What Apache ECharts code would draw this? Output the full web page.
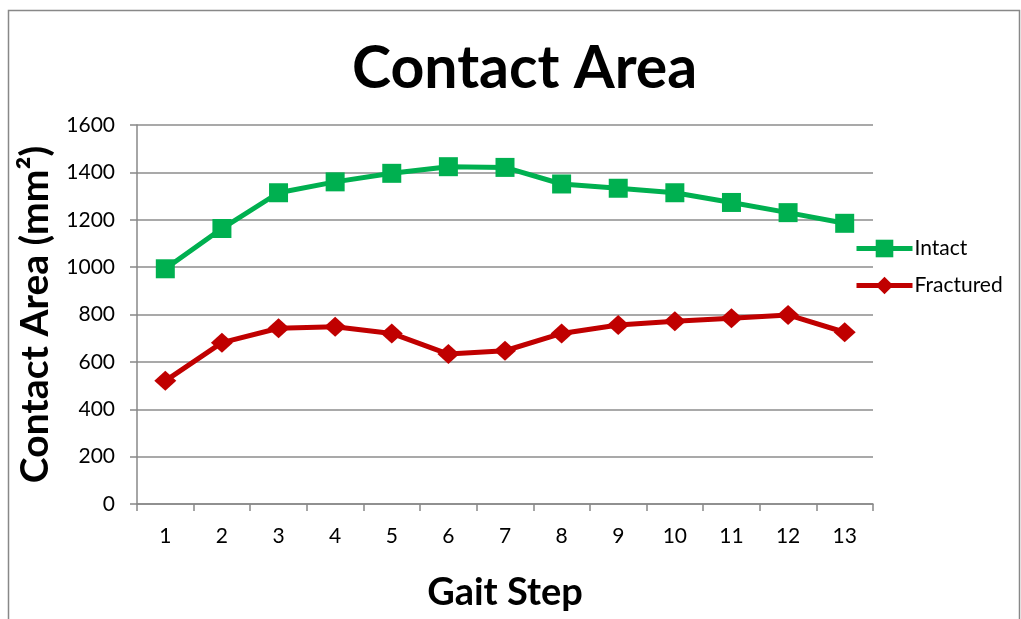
<!DOCTYPE html>
<html>
<head>
<meta charset="utf-8">
<script src="https://cdn.jsdelivr.net/npm/echarts@6/dist/echarts.min.js"></script>
<style>html,body{margin:0;padding:0;background:#fff}#c{width:1021px;height:619px}</style>
</head>
<body>
<div id="c"></div>
<script>
const categories = ['1','2','3','4','5','6','7','8','9','10','11','12','13'];
const intact = [993, 1163, 1314, 1360, 1396, 1424, 1421, 1351, 1333, 1314, 1273, 1230, 1185];
const fractured = [520, 681, 742, 748, 720, 633, 647, 720, 756, 772, 784, 798, 725];
const seriesNames = ['Intact', 'Fractured'];

const FONT = 'Lato, "Open Sans", sans-serif';
const chart = echarts.init(document.getElementById('c'));
chart.setOption({
  animation: false,
  backgroundColor: '#fff',
  graphic: [{
    type: 'rect', shape: {x: 8.5, y: 10.5, width: 1011, height: 640},
    style: {fill: 'none', stroke: '#888', lineWidth: 1.5}, silent: true
  }],
  title: {
    text: 'Contact Area', left: 347, top: 34,
    textStyle: {fontFamily: FONT, fontSize: 59, fontWeight: 'bold', color: '#000'}
  },
  legend: {
    orient: 'vertical', left: 854, top: 238, itemGap: 16, padding: 0,
    itemWidth: 56, itemHeight: 22,
    lineStyle: {width: 5},
    textStyle: {fontFamily: FONT, fontSize: 21, color: '#000', padding: [0,0,0,-3]},
    data: seriesNames
  },
  grid: {left: 137, right: 148, top: 125, bottom: 115},
  xAxis: {
    type: 'category', data: categories, boundaryGap: true,
    name: 'Gait Step', nameLocation: 'middle', nameGap: 70,
    nameTextStyle: {fontFamily: FONT, fontSize: 38, fontWeight: 'bold', color: '#000'},
    axisLine: {lineStyle: {color: '#888', width: 1.5}},
    axisTick: {show: true, alignWithLabel: false, length: 7, lineStyle: {color: '#888', width: 1.5}},
    axisLabel: {fontFamily: FONT, fontSize: 21, color: '#000', margin: 22}
  },
  yAxis: {
    type: 'value', min: 0, max: 1600, interval: 200,
    name: 'Contact Area (mm²)', nameLocation: 'middle', nameGap: 80, nameRotate: 90,
    nameTextStyle: {fontFamily: FONT, fontSize: 39, fontWeight: 'bold', color: '#000', padding: [0, 0, 0, 0]},
    axisLine: {show: true, lineStyle: {color: '#888', width: 1.5}},
    axisTick: {show: true, length: 7, lineStyle: {color: '#888', width: 1.5}},
    axisLabel: {fontFamily: FONT, fontSize: 21, color: '#000', margin: 22, formatter: v => String(v)},
    splitLine: {lineStyle: {color: '#8c8c8c', width: 1.5}}
  },
  series: [
    {
      name: seriesNames[0], type: 'line', data: intact,
      symbol: 'rect', symbolSize: 19,
      lineStyle: {color: '#00B050', width: 5},
      itemStyle: {color: '#00B050'}
    },
    {
      name: seriesNames[1], type: 'line', data: fractured,
      symbol: 'diamond', symbolSize: [22, 20],
      lineStyle: {color: '#C00000', width: 5},
      itemStyle: {color: '#C00000'}
    }
  ]
});
</script>
</body>
</html>
